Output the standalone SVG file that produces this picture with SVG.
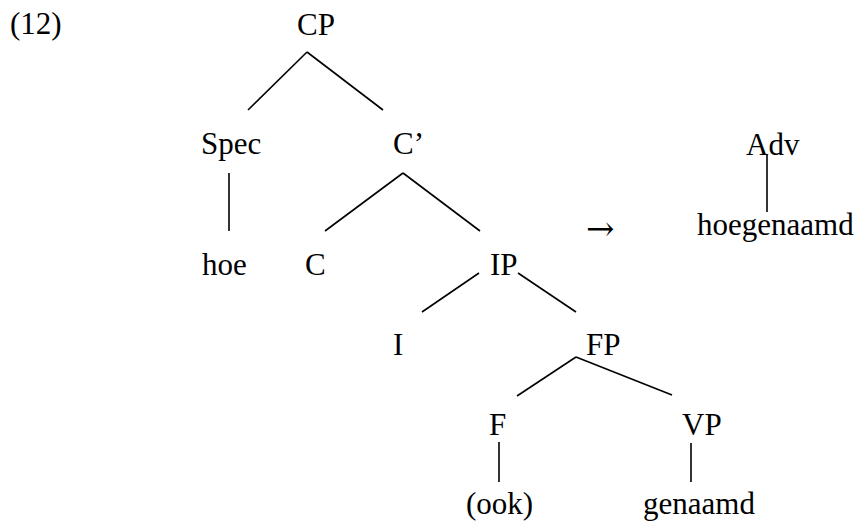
<svg xmlns="http://www.w3.org/2000/svg" width="859" height="523" viewBox="0 0 859 523">
  <style>
    text { font-family: "Liberation Serif", "Times New Roman", serif; font-size: 31px; fill: #000; }
    .edge { stroke: #000; stroke-width: 1.6; fill: none; }
    .arrow { font-family: "DejaVu Serif", "DejaVu Sans", serif; font-size: 34px; }
  </style>
  <rect width="859" height="523" fill="#fff"/>

  <text id="example-number" x="10" y="34">(12)</text>

  <!-- tree edges -->
  <g id="connectors">
    <line class="edge" x1="307" y1="52" x2="248" y2="110"/>
    <line class="edge" x1="307" y1="52" x2="383" y2="110"/>
    <line class="edge" x1="229" y1="173" x2="229" y2="231"/>
    <line class="edge" x1="403" y1="173" x2="325" y2="231"/>
    <line class="edge" x1="403" y1="173" x2="480" y2="231"/>
    <line class="edge" x1="479" y1="273" x2="422" y2="312"/>
    <line class="edge" x1="518" y1="273" x2="576" y2="312"/>
    <line class="edge" x1="576" y1="357" x2="517" y2="396"/>
    <line class="edge" x1="576" y1="357" x2="672" y2="395"/>
    <line class="edge" x1="499" y1="442" x2="499" y2="482"/>
    <line class="edge" x1="691" y1="443" x2="691" y2="482"/>
    <line class="edge" x1="767" y1="155" x2="767" y2="212"/>
  </g>

  <!-- nodes -->
  <g id="n-CP"><text x="297" y="35">CP</text></g>
  <g id="n-Spec"><text x="201" y="154">Spec</text></g>
  <g id="n-Cbar"><text x="393" y="154">C’</text></g>
  <g id="n-hoe"><text x="202" y="275">hoe</text></g>
  <g id="n-C"><text x="305" y="275">C</text></g>
  <g id="n-IP"><text x="490" y="275">IP</text></g>
  <g id="n-I"><text x="393" y="355">I</text></g>
  <g id="n-FP"><text x="586" y="355">FP</text></g>
  <g id="n-F"><text x="489" y="435">F</text></g>
  <g id="n-VP"><text x="682" y="435">VP</text></g>
  <g id="n-ook"><text x="466" y="514">(ook)</text></g>
  <g id="n-genaamd"><text x="643" y="514">genaamd</text></g>

  <g id="arrow"><text class="arrow" x="586" y="240">→</text></g>

  <g id="n-Adv"><text x="746" y="155">Adv</text></g>
  <g id="n-hoegenaamd"><text x="697" y="235">hoegenaamd</text></g>
</svg>
